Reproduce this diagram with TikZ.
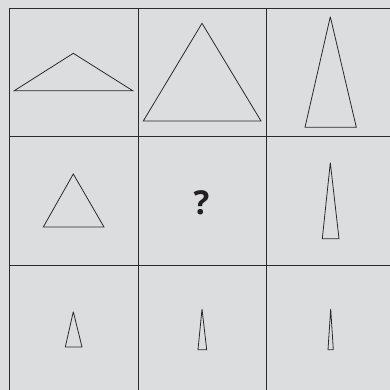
\documentclass[tikz,border=0pt]{standalone}
\usepackage{fontspec}
\setmainfont{Open Sans}
\definecolor{bg}{HTML}{DCDDDF}
\definecolor{ln}{HTML}{2A2A2A}
\definecolor{qc}{HTML}{231F20}
\begin{document}
\begin{tikzpicture}[x=1pt,y=-1pt,
  gridline/.style={draw=ln,line width=0.9pt},
  tri/.style={draw=ln,line width=0.8pt,line join=miter,miter limit=4}]
\fill[bg] (0,0) rectangle (390,390);
\useasboundingbox (0,0) rectangle (390,390);
% grid
\foreach \x in {9,138,266} \draw[gridline] (\x,8) -- (\x,390);
\foreach \y in {8,136,265} \draw[gridline] (9,\y) -- (390,\y);
% row 1
\draw[tri] (73.3,53.3) -- (14.3,90.7) -- (132.7,90.7) -- cycle;
\draw[tri] (202,23.3) -- (143.3,121) -- (261,121) -- cycle;
\draw[tri] (330.3,16.7) -- (305,127.3) -- (356.3,127.3) -- cycle;
% row 2
\draw[tri] (73.3,174) -- (43.3,227) -- (104,227) -- cycle;
\node[font=\bfseries\fontsize{33}{33}\selectfont,text=qc,inner sep=0pt] (q) at (201.5,202.5) {?};
\draw[tri] (330.3,162.7) -- (322.3,238.7) -- (339,238.7) -- cycle;
% row 3
\draw[tri] (73.3,311.7) -- (65.3,347) -- (82,347) -- cycle;
\draw[tri] (202,309) -- (198,349.7) -- (206.7,349.7) -- cycle;
\draw[tri] (330.7,309) -- (328,349.7) -- (333.3,349.7) -- cycle;
\end{tikzpicture}
\end{document}
